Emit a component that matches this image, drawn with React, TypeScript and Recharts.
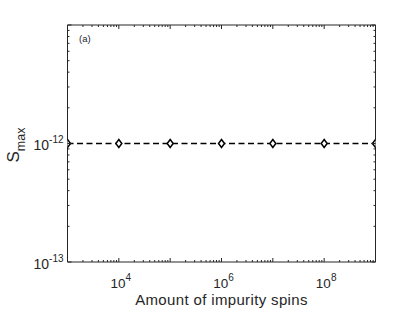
import React from 'react';
import { LineChart, Line, XAxis, YAxis } from 'recharts';

const spins = [1e3, 1e4, 1e5, 1e6, 1e7, 1e8, 1e9];
const sMax = [1e-12, 1e-12, 1e-12, 1e-12, 1e-12, 1e-12, 1e-12];
const xLabelExps = [4, 6, 8];
const yLabelExps = [-13, -12];

const data = spins.map((x, i) => ({ x, s: sMax[i] }));

const buildTicks = (lo: number, hi: number) => {
  const t: number[] = [];
  for (let e = lo; e < hi; e++) {
    for (let m = 1; m < 10; m++) t.push(m * Math.pow(10, e));
  }
  t.push(Math.pow(10, hi));
  return t;
};
const xTicks = buildTicks(3, 9);
const yTicks = buildTicks(-13, -11);

const W = 415;
const H = 312;
const L = 67.5;
const R = 375.5;
const T = 25;
const B = 262;
const AX = '#262626';
const FONT = '"Liberation Sans", Arial, sans-serif';

const isMajor = (v: number) => {
  const e = Math.log10(v);
  return Math.abs(e - Math.round(e)) < 1e-6;
};
const expOf = (v: number) => Math.round(Math.log10(v));

const XTick = (props: any) => {
  const { x, y, payload, top } = props;
  const v = payload.value;
  const major = isMajor(v);
  const len = major ? 4 : 2;
  const dir = top ? 1 : -1;
  const e = expOf(v);
  return (
    <g>
      <line x1={x} x2={x} y1={y} y2={y + dir * len} stroke={AX} strokeWidth={1} />
      {!top && major && xLabelExps.includes(e) ? (
        <text x={x + 2} y={y + 25.5} textAnchor="middle" fontFamily={FONT} fontSize={13.5} fill="#262626">
          <tspan>10</tspan>
          <tspan dy={-7} fontSize={10}>{e}</tspan>
        </text>
      ) : null}
    </g>
  );
};

const YTick = (props: any) => {
  const { x, y, payload, right } = props;
  const v = payload.value;
  const major = isMajor(v);
  const len = major ? 4 : 2;
  const dir = right ? -1 : 1;
  const e = expOf(v);
  return (
    <g>
      <line x1={x} x2={x + dir * len} y1={y} y2={y} stroke={AX} strokeWidth={1} />
      {!right && major && yLabelExps.includes(e) ? (
        <text x={x - 4} y={y + 6.5} textAnchor="end" fontFamily={FONT} fontSize={14} fill="#262626">
          <tspan>10</tspan>
          <tspan dy={-7} fontSize={10}>{e}</tspan>
        </text>
      ) : null}
    </g>
  );
};

const Diamond = (props: any) => {
  const { cx, cy } = props;
  if (cx == null || cy == null) return null;
  return (
    <path
      d={`M${cx},${cy - 4} L${cx + 3},${cy} L${cx},${cy + 4} L${cx - 3},${cy} Z`}
      fill="#ffffff"
      stroke="#000000"
      strokeWidth={1.5}
    />
  );
};

export default function App() {
  return (
    <div style={{ position: 'absolute', left: 0, top: 0, width: W, height: H, background: '#fff' }}>
      <LineChart width={W} height={H} data={data} margin={{ top: 0, right: 0, bottom: 0, left: 0 }}>
        <XAxis
          xAxisId="b"
          dataKey="x"
          type="number"
          scale="log"
          domain={[1e3, 1e9]}
          allowDataOverflow
          ticks={xTicks}
          interval={0}
          height={H - B}
          tickSize={0}
          tickMargin={0}
          tickLine={false}
          axisLine={{ stroke: AX, strokeWidth: 1 }}
          tick={<XTick />}
        />
        <XAxis
          xAxisId="t"
          orientation="top"
          dataKey="x"
          type="number"
          scale="log"
          domain={[1e3, 1e9]}
          allowDataOverflow
          ticks={xTicks}
          interval={0}
          height={T}
          tickSize={0}
          tickMargin={0}
          tickLine={false}
          axisLine={{ stroke: AX, strokeWidth: 1 }}
          tick={<XTick top />}
        />
        <YAxis
          yAxisId="l"
          type="number"
          scale="log"
          domain={[1e-13, 1e-11]}
          allowDataOverflow
          ticks={yTicks}
          interval={0}
          width={L}
          tickSize={0}
          tickMargin={0}
          tickLine={false}
          axisLine={{ stroke: AX, strokeWidth: 1 }}
          tick={<YTick />}
        />
        <YAxis
          yAxisId="r"
          orientation="right"
          type="number"
          scale="log"
          domain={[1e-13, 1e-11]}
          allowDataOverflow
          ticks={yTicks}
          interval={0}
          width={W - R}
          tickSize={0}
          tickMargin={0}
          tickLine={false}
          axisLine={{ stroke: AX, strokeWidth: 1 }}
          tick={<YTick right />}
        />
        <Line
          xAxisId="b"
          yAxisId="l"
          dataKey="s"
          stroke="#000000"
          strokeWidth={1.5}
          strokeDasharray="6 3.5"
          dot={<Diamond />}
          activeDot={false}
          isAnimationActive={false}
        />
      </LineChart>
      <svg width={W} height={H} style={{ position: 'absolute', left: 0, top: 0, pointerEvents: 'none' }}>
        <text x={79} y={42} fontFamily={FONT} fontSize={9.5} fill="#262626">(a)</text>
        <text
          x={(L + R) / 2}
          y={305}
          textAnchor="middle"
          fontFamily={FONT}
          fontSize={15}
          letterSpacing={0.35}
          fill="#262626"
        >
          Amount of impurity spins
        </text>
        <text
          transform={`translate(19, 145) rotate(-90)`}
          textAnchor="middle"
          fontFamily={FONT}
          fontSize={17}
          fill="#262626"
        >
          <tspan>S</tspan>
          <tspan dy={6} fontSize={12.5}>max</tspan>
        </text>
      </svg>
    </div>
  );
}
